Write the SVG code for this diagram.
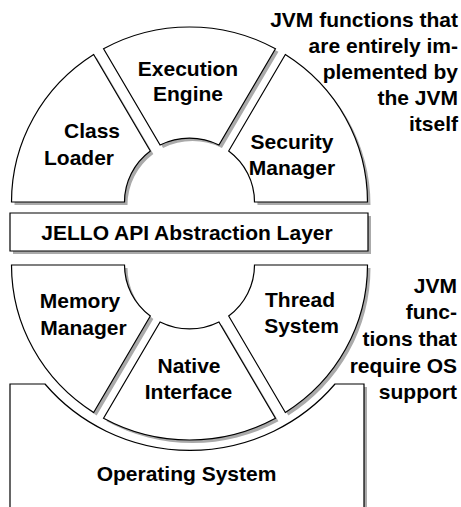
<svg xmlns="http://www.w3.org/2000/svg" xmlns:xlink="http://www.w3.org/1999/xlink" width="461" height="507" viewBox="0 0 461 507">
<style>
.fg{fill:#fff;stroke:#000;stroke-width:1.2;vector-effect:non-scaling-stroke}
.sh{fill:#aaa;stroke:none}
text{font-family:"Liberation Sans",Arial,sans-serif;font-weight:bold;font-size:21px;fill:#000}
.m{text-anchor:middle}
.e{text-anchor:end}
</style>
<defs>
<path id="segL" d="M -178 0 A 178 178 0 0 1 -95.84 -149.99 L -39.18 -51.87 A 65 65 0 0 0 -65 0 Z"/>
<path id="segM" d="M -85.95 -155.87 A 178 178 0 0 1 85.95 -155.87 L 29.42 -57.96 A 65 65 0 0 0 -29.42 -57.96 Z"/>
<path id="segR" d="M 95.84 -149.99 A 178 178 0 0 1 178 0 L 65 0 A 65 65 0 0 0 39.18 -51.87 Z"/>
</defs>
<rect width="461" height="507" fill="#fff"/>

<g id="operating-system">
<path class="sh" d="M 13 510 L 13 387 L 48 387 A 189 185 0 0 0 338 387 L 367 387 L 367 510 Z"/>
<path class="fg" d="M 10 510 L 10 384 L 45 384 A 189 185 0 0 0 335 384 L 364 384 L 364 510"/>
<text class="m" x="186.5" y="481">Operating System</text>
</g>

<g id="class-loader">
<use xlink:href="#segL" class="sh" transform="translate(192.5,205) scale(1,0.983)"/>
<use xlink:href="#segL" class="fg" transform="translate(189.5,202) scale(1,0.983)"/>
<text class="m" x="92" y="138">Class</text>
<text class="m" x="79" y="165">Loader</text>
</g>

<g id="execution-engine">
<use xlink:href="#segM" class="sh" transform="translate(192.5,205) scale(1,0.983)"/>
<use xlink:href="#segM" class="fg" transform="translate(189.5,202) scale(1,0.983)"/>
<text class="m" x="188" y="76">Execution</text>
<text class="m" x="188" y="101">Engine</text>
</g>

<g id="security-manager">
<use xlink:href="#segR" class="sh" transform="translate(192.5,205) scale(1,0.983)"/>
<use xlink:href="#segR" class="fg" transform="translate(189.5,202) scale(1,0.983)"/>
<text class="m" x="292" y="149">Security</text>
<text class="m" x="292" y="175">Manager</text>
</g>

<g id="jello-api">
<rect class="sh" x="13" y="216" width="358" height="38"/>
<rect class="fg" x="10" y="213" width="358" height="38"/>
<text class="m" x="187" y="240">JELLO API Abstraction Layer</text>
</g>

<g id="memory-manager">
<use xlink:href="#segL" class="sh" transform="translate(192.5,268) scale(1,-0.983)"/>
<use xlink:href="#segL" class="fg" transform="translate(189.5,265) scale(1,-0.983)"/>
<text class="m" x="80" y="308">Memory</text>
<text class="m" x="83.5" y="335">Manager</text>
</g>

<g id="native-interface">
<use xlink:href="#segM" class="sh" transform="translate(192.5,268) scale(1,-0.983)"/>
<use xlink:href="#segM" class="fg" transform="translate(189.5,265) scale(1,-0.983)"/>
<text class="m" x="189" y="373">Native</text>
<text class="m" x="188.5" y="399">Interface</text>
</g>

<g id="thread-system">
<use xlink:href="#segR" class="sh" transform="translate(192.5,268) scale(1,-0.983)"/>
<use xlink:href="#segR" class="fg" transform="translate(189.5,265) scale(1,-0.983)"/>
<text class="m" x="300" y="307">Thread</text>
<text class="m" x="301.5" y="333">System</text>
</g>

<g id="note-jvm-only">
<text class="e" x="458" y="27">JVM functions that</text>
<text class="e" x="458" y="53">are entirely im-</text>
<text class="e" x="458" y="79">plemented by</text>
<text class="e" x="458" y="105">the JVM</text>
<text class="e" x="458" y="131">itself</text>
</g>

<g id="note-os-support">
<text class="e" x="457" y="293">JVM</text>
<text class="e" x="457" y="319">func-</text>
<text class="e" x="457" y="346">tions that</text>
<text class="e" x="457" y="372.5">require OS</text>
<text class="e" x="457" y="398.5">support</text>
</g>

<g id="connectors"></g>
</svg>
